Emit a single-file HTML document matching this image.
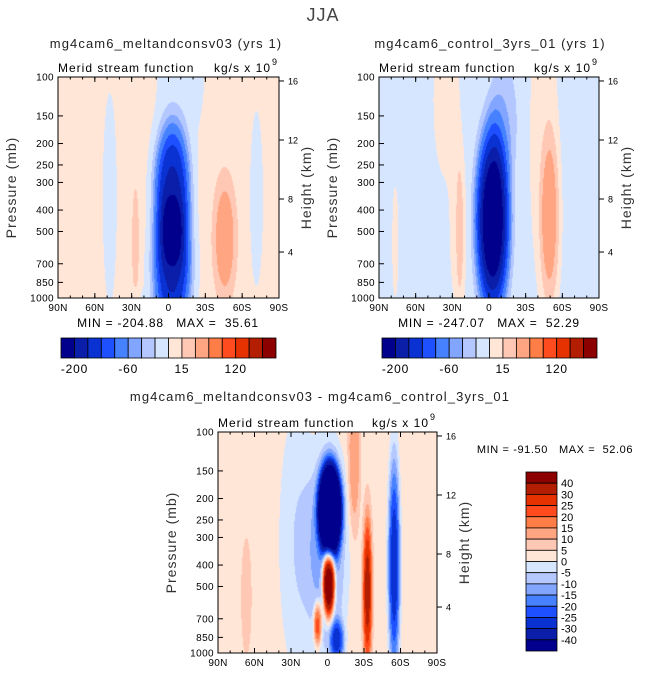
<!DOCTYPE html>
<html><head><meta charset="utf-8">
<style>
body{margin:0;background:#fff;width:647px;height:677px;overflow:hidden;font-family:"Liberation Sans",sans-serif;}
#wrap{position:relative;width:647px;height:677px;}
canvas{position:absolute;}
svg{position:absolute;left:0;top:0;}
text{white-space:pre;}
</style></head>
<body>
<div id="wrap">
<canvas id="c1" width="221" height="221" style="left:58px;top:77px"></canvas>
<canvas id="c2" width="220" height="221" style="left:379px;top:77px"></canvas>
<canvas id="c3" width="219" height="221" style="left:218px;top:432px"></canvas>
<svg id="ov" width="647" height="677"></svg>
</div>
<script>
// ---- data ----
const topLevels = [-200,-160,-120,-90,-60,-40,-20,0,15,30,50,80,120,160,200];
const diffLevels = [-40,-30,-25,-20,-15,-10,-5,0,5,10,15,20,25,30,40];
const colors = ["#00008c","#0a1eaa","#0a32d2","#1e50ff","#4682ff","#82a5ff","#b4c8ff","#d7e6ff","#ffe6d7","#ffc8b4","#ffa582","#ff7d46","#ff4b1e","#e63200","#b41e00","#8c0000"];
const topTickLabels = ["-200","-60","15","120"];
const topTickIdx = [0,4,8,12];
const diffLabels = ["40","30","25","20","15","10","5","0","-5","-10","-15","-20","-25","-30","-40"];
const latTicks = [90,60,30,0,-30,-60,-90];
const latLabels = ["90N","60N","30N","0","30S","60S","90S"];
const presTicks = [100,150,200,250,300,400,500,700,850,1000];
const hgtLabels = ["16","12","8","4"];
const hgtFrac = [0.018,0.285,0.552,0.792];

// blobs: lat, pressure(mb), amplitude, lat width(deg), log-pressure width
const p1Bg = 5;
const p1Lat = [-3, -3, -10, -46, 48, 27, -72, 5];
const p1P   = [330, 720, 100, 540, 355, 560, 355, 1000];
const p1Amp = [-170, -165, -12, 36, -12, 14, -10, -8];
const p1WL  = [14, 15, 20, 10, 6, 4, 6, 25];
const p1WP  = [0.3, 0.28, 0.35, 0.3, 0.5, 0.35, 0.45, 0.06];

const p2Bg = -5;
const p2Lat = [35, 25, 24, -3, -12, -45, -50, 77];
const p2P   = [126, 500, 500, 450, 158, 200, 450, 560];
const p2Amp = [10, 10, 18, -250, -30, 12, 40, 9];
const p2WL  = [12, 8, 3.5, 13, 12, 12, 8, 3];
const p2WP  = [0.4, 0.4, 0.35, 0.4, 0.3, 0.7, 0.4, 0.3];

const p3Bg = 3;
const p3Lat = [25, -2, 0, -1, 8, -8, -33, -22, -55, 67];
const p3P   = [316, 224, 355, 480, 740, 890, 525, 126, 400, 560];
const p3Amp = [-8, -100, -15, 65, 28, -25, 30, 12, -32, 7];
const p3WL  = [15, 9, 16, 5, 3.5, 6, 4, 5, 5, 4];
const p3WP  = [0.6, 0.2, 0.5, 0.16, 0.1, 0.1, 0.35, 0.35, 0.5, 0.25];

function fieldAt(bg, la, pr, am, wl, wp, lat, yf){
  let v = bg;
  for(let i=0;i<la.length;i++){
    const dx=(lat-la[i])/wl[i];
    const dy=(yf-Math.log10(pr[i]/100))/wp[i];
    v += am[i]*Math.exp(-Math.pow(dx*dx+dy*dy,1.5));
  }
  return v;
}
function hexRGB(h){return [parseInt(h.substr(1,2),16),parseInt(h.substr(3,2),16),parseInt(h.substr(5,2),16)];}
const rgb = colors.map(hexRGB);
function drawField(id,bg,la,pr,am,wl,wp,levels){
  const c=document.getElementById(id),ctx=c.getContext('2d');
  const W=c.width,H=c.height,img=ctx.createImageData(W,H);
  for(let y=0;y<H;y++){
    const yf=y/(H-1);
    for(let x=0;x<W;x++){
      const lat=90-180*x/(W-1);
      const v=fieldAt(bg,la,pr,am,wl,wp,lat,yf);
      let k=0; while(k<levels.length && v>=levels[k]) k++;
      const col=rgb[k],o=(y*W+x)*4;
      img.data[o]=col[0];img.data[o+1]=col[1];img.data[o+2]=col[2];img.data[o+3]=255;
    }
  }
  ctx.putImageData(img,0,0);
}
drawField('c1',p1Bg,p1Lat,p1P,p1Amp,p1WL,p1WP,topLevels);
drawField('c2',p2Bg,p2Lat,p2P,p2Amp,p2WL,p2WP,topLevels);
drawField('c3',p3Bg,p3Lat,p3P,p3Amp,p3WL,p3WP,diffLevels);

const svg=document.getElementById('ov');
const NS="http://www.w3.org/2000/svg";
function el(tag,attrs,txt){const e=document.createElementNS(NS,tag);for(const k in attrs)e.setAttribute(k,attrs[k]);if(txt!==undefined)e.textContent=txt;svg.appendChild(e);return e;}
function txt(x,y,s,size,anchor,name,extra){
  const t=el('text',Object.assign({x:x,y:y,'font-size':size,'text-anchor':anchor||'middle','font-family':'Liberation Sans, sans-serif',fill:'#000'},extra||{}),s);
  
  
  return t;
}
function axes(x0,y0,w,h,pfx){
  const f=el('rect',{x:x0,y:y0,width:w,height:h,fill:'none',stroke:'#000','stroke-width':1});
  
  
  for(let i=0;i<latTicks.length;i++){
    const x=x0+w*(90-latTicks[i])/180;
    el('line',{x1:x,y1:y0+h,x2:x,y2:y0+h-5,stroke:'#000'});
    el('line',{x1:x,y1:y0,x2:x,y2:y0+5,stroke:'#000'});
    txt(x,y0+h+13,latLabels[i],10,'middle',pfx+'-x-tick-label',{'letter-spacing':0.3});
  }
  for(let l=-80;l<=80;l+=10){const x=x0+w*(90-l)/180;el('line',{x1:x,y1:y0+h,x2:x,y2:y0+h-2.5,stroke:'#000'});el('line',{x1:x,y1:y0,x2:x,y2:y0+2.5,stroke:'#000'});}
  for(const p of presTicks){
    const y=y0+h*Math.log10(p/100);
    el('line',{x1:x0,y1:y,x2:x0+5,y2:y,stroke:'#000'});
    txt(x0-4,y+3.5,String(p),10,'end',pfx+'-y-tick-label',{'letter-spacing':0.4});
  }
  for(let i=0;i<hgtLabels.length;i++){
    const y=y0+h*hgtFrac[i];
    el('line',{x1:x0+w,y1:y,x2:x0+w+5,y2:y,stroke:'#000'});
    txt(x0+w+9,y+3.5,hgtLabels[i],9,'start',pfx+'-height-tick-label');
  }
  const ly=y0+h/2;
  txt(x0-42,ly,'Pressure (mb)',14,'middle',pfx+'-y-axis-title',{transform:`rotate(-90 ${x0-42} ${ly})`,fill:'#333','letter-spacing':1});
  txt(x0+w+32,ly,'Height (km)',14,'middle',pfx+'-height-axis-title',{transform:`rotate(-90 ${x0+w+32} ${ly})`,fill:'#333','letter-spacing':1});
  txt(x0,y0-5,'Merid stream function',12,'start',pfx+'-subtitle-left',{'letter-spacing':1});
  txt(x0+w-8,y0-5,'kg/s x 10',12,'end',pfx+'-units',{'letter-spacing':1});
  txt(x0+w-7,y0-12,'9',9,'start',pfx+'-units-exp');
}
function hbar(x0,y0,w,h,pfx){
  const bw=w/colors.length;
  for(let i=0;i<colors.length;i++){
    const r=el('rect',{x:x0+i*bw,y:y0,width:bw,height:h,fill:colors[i],stroke:'#000','stroke-width':0.8});
    
    
  }
  for(let i=0;i<topTickLabels.length;i++){
    txt(x0+(topTickIdx[i]+1)*bw,y0+h+15,topTickLabels[i],12,'middle',pfx+'-colorbar-label',{'letter-spacing':0.8});
  }
}
txt(323,21,'JJA',18,'middle','figure-title',{fill:'#444','letter-spacing':1});
txt(166,48,'mg4cam6_meltandconsv03 (yrs 1)',13,'middle','plot1-title',{'letter-spacing':1.1,fill:'#222'});
txt(490,48,'mg4cam6_control_3yrs_01 (yrs 1)',13,'middle','plot2-title',{'letter-spacing':1.1,fill:'#222'});
txt(320,401,'mg4cam6_meltandconsv03 - mg4cam6_control_3yrs_01',13,'middle','plot3-title',{'letter-spacing':1.1,fill:'#222'});
axes(58,77,221,221,'plot1');
axes(379,77,220,221,'plot2');
axes(218,432,219,221,'plot3');
txt(168,327,'MIN = -204.88   MAX =  35.61',12,'middle','plot1-minmax',{'letter-spacing':0.8});
txt(489,327,'MIN = -247.07   MAX =  52.29',12,'middle','plot2-minmax',{'letter-spacing':0.8});
txt(555,453,'MIN = -91.50   MAX =  52.06',11,'middle','plot3-minmax',{'letter-spacing':0.6});
hbar(61,338,215,20,'plot1');
hbar(382,338,215,20,'plot2');
(function(){
  const x0=526,y0=472,w=31,h=179,bh=h/colors.length;
  for(let i=0;i<colors.length;i++){
    const r=el('rect',{x:x0,y:y0+i*bh,width:w,height:bh,fill:colors[colors.length-1-i],stroke:'#000','stroke-width':0.8});
    
    
  }
  for(let i=0;i<diffLabels.length;i++){
    txt(x0+w+4,y0+(i+1)*bh+4,diffLabels[i],11,'start','plot3-colorbar-label');
  }
})();
</script>
</body></html>
